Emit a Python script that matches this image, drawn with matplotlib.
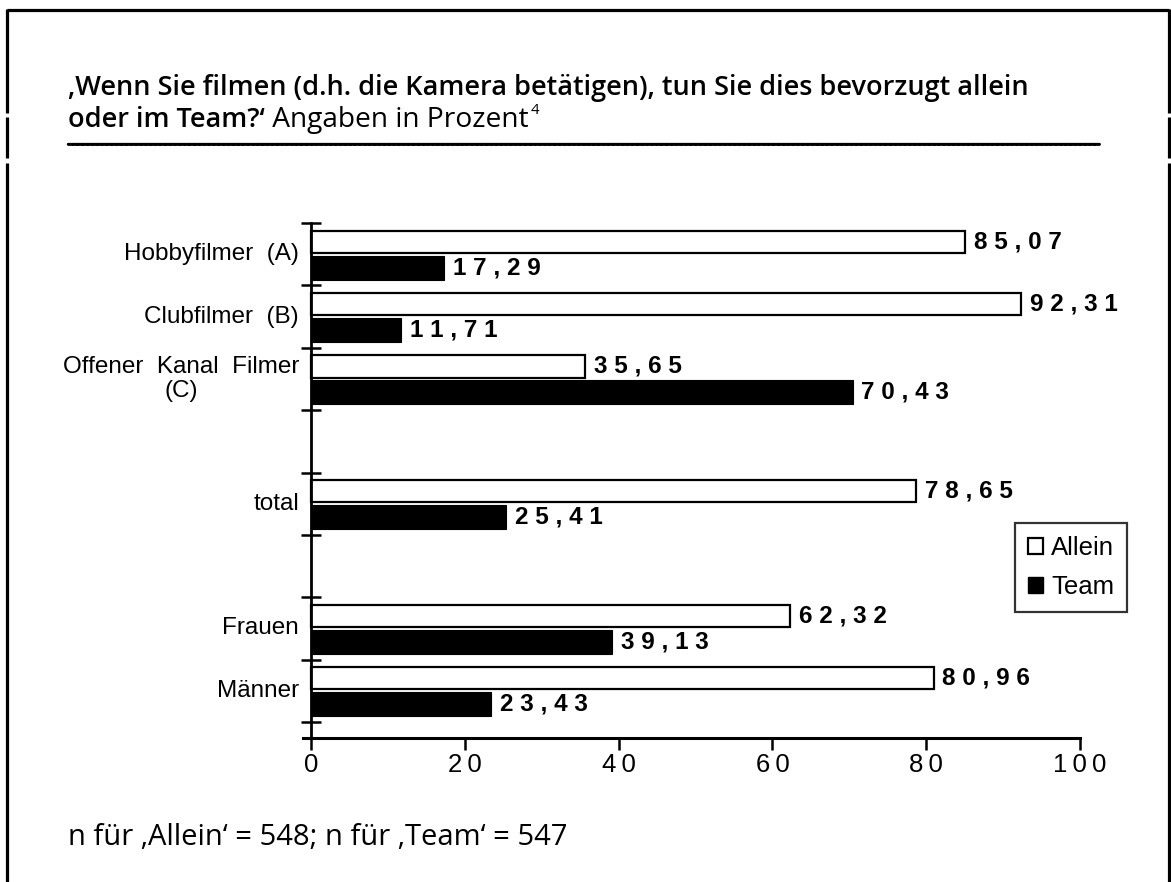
import matplotlib
matplotlib.use("Agg")
import matplotlib.pyplot as plt
from matplotlib.patches import Patch
from matplotlib.lines import Line2D
import matplotlib.patheffects as pe
import numpy as np

# ---------------- data ----------------
categories = ["Hobbyfilmer  (A)", "Clubfilmer  (B)", "Offener  Kanal  Filmer\n(C)",
              "total", "Frauen", "Männer"]
allein = [85.07, 92.31, 35.65, 78.65, 62.32, 80.96]
team = [17.29, 11.71, 70.43, 25.41, 39.13, 23.43]
series_names = ["Allein", "Team"]
x_ticks = [0, 20, 40, 60, 80, 100]
title_line1 = "‚Wenn Sie filmen (d.h. die Kamera betätigen), tun Sie dies bevorzugt allein"
title_line2_bold = "oder im Team?‘"
title_line2_regular = " Angaben in Prozent"
title_sup = "4"
footnote = "n für ‚Allein‘ = 548; n für ‚Team‘ = 547"

# layout: slot of each category (empty slots separate the groups)
slots = [0, 1, 2, 4, 6, 7]
n_slots = 8

W, H = 1171, 882
fig = plt.figure(figsize=(W / 100, H / 100), dpi=100)
fig.patch.set_facecolor("white")


def fx(px):
    return px / W


def fy(py):
    return 1 - py / H


renderer = fig.canvas.get_renderer()

# ---------------- axes ----------------
x0_px, x100_px = 311, 1080
ppu = (x100_px - x0_px) / 100.0
top_px, last_px, axis_px = 223, 722, 738
slot_px = (last_px - top_px) / n_slots
left_px = 303
ax = fig.add_axes([fx(left_px), fy(axis_px), fx(x100_px) - fx(left_px), fy(top_px) - fy(axis_px)])
ax.set_xlim(-(x0_px - left_px) / ppu, 100)
ax.set_ylim(n_slots - 0.5 + (axis_px - last_px) / slot_px, -0.5)

pos = np.array(slots, dtype=float)
ax.barh(pos - 0.2, allein, height=0.355, color="white", edgecolor="black",
        linewidth=1.6, label=series_names[0], zorder=2)
ax.barh(pos + 0.215, team, height=0.385, color="black", edgecolor="black",
        linewidth=0.8, label=series_names[1], zorder=2)

lab_font = ["Liberation Sans", "DejaVu Sans"]


def spaced(v):
    return " ".join(f"{v:.2f}".replace(".", ","))


for p, a, t in zip(pos, allein, team):
    ax.text(a + 1.15, p - 0.2, spaced(a), ha="left", va="center", fontsize=17.5,
            fontweight="bold", family=lab_font, zorder=3)
    ax.text(t + 1.15, p + 0.215, spaced(t), ha="left", va="center", fontsize=17.5,
            fontweight="bold", family=lab_font, zorder=3)

for p, c in zip(pos, categories):
    ax.text(-(x0_px - 299) / ppu, p, c, ha="right", va="center", multialignment="center",
            fontsize=17.5, family=lab_font, linespacing=1.1)

for s in ["top", "right"]:
    ax.spines[s].set_visible(False)
ax.spines["left"].set_position(("data", 0))
ax.spines["left"].set_linewidth(2)
ax.spines["bottom"].set_linewidth(2.2)

ax.set_yticks(np.arange(-0.5, n_slots, 1.0))
ax.set_yticklabels([])
ax.tick_params(axis="y", direction="inout", length=14, width=1.8)

ax.set_xticks(x_ticks)
ax.set_xticklabels(["\u2009".join(str(v)) for v in x_ticks], family=lab_font, fontsize=18.5)
ax.tick_params(axis="x", direction="out", length=8.5, width=1.8, pad=2.5)

# legend
handles = [Patch(facecolor="white", edgecolor="black", linewidth=1.6),
           Patch(facecolor="black", edgecolor="black")]
leg = fig.legend(handles, series_names, loc="upper left",
                 bbox_to_anchor=(fx(1015), fy(523)), borderaxespad=0,
                 prop={"family": lab_font, "size": 18.5}, frameon=True, fancybox=False,
                 handlelength=0.6, handleheight=0.6, handletextpad=0.3,
                 labelspacing=0.6, borderpad=0.5)
leg.get_frame().set_edgecolor("black")
leg.get_frame().set_linewidth(1.6)

# ---------------- texts ----------------
tfont = "Open Sans"


def fit(t, target_w):
    w = t.get_window_extent(renderer).width
    t.set_fontsize(t.get_fontsize() * target_w / w)


t1 = fig.text(fx(68), fy(95), title_line1, ha="left", va="baseline", family=tfont,
              fontweight=600, fontsize=15)
fit(t1, 1030 - 68)
fs_title = t1.get_fontsize()

t2 = fig.text(fx(68), fy(127), title_line2_bold, ha="left", va="baseline", family=tfont,
              fontweight=600, fontsize=fs_title)
bb = t2.get_window_extent(renderer)
t3 = fig.text(bb.x1 / W, fy(127), title_line2_regular, ha="left", va="baseline",
              family=tfont, fontsize=fs_title)
fit(t3, 530 - bb.x1)
bb3 = t3.get_window_extent(renderer)
fig.text(bb3.x1 / W + 0.002, fy(114), title_sup, ha="left", va="baseline", family=tfont,
         fontsize=fs_title * 0.55)

# underscore rule
ufs = 8
probe = fig.text(0, 0, "_" * 20, family=tfont, fontsize=ufs)
uw = probe.get_window_extent(renderer).width / 20
probe.remove()
nu = int(round((1100 - 68) / uw))
fig.text(fx(68), fy(143), "_" * nu, ha="left", va="baseline", family=tfont,
         fontsize=ufs, path_effects=[pe.withStroke(linewidth=1.6, foreground="black")])

tf = fig.text(fx(68), fy(845), footnote, ha="left", va="baseline", family=tfont,
              fontsize=14)
fit(tf, 568 - 68)

# ---------------- frame ----------------
lw = 2.3
fig.add_artist(Line2D([fx(7), fx(1169)], [fy(10), fy(10)], color="black", lw=lw,
                      solid_capstyle="butt"))
for xp in (7, 1169):
    for a, b in [(9, 113), (117, 158), (163, 882)]:
        fig.add_artist(Line2D([fx(xp), fx(xp)], [fy(a), fy(b)], color="black", lw=lw,
                              solid_capstyle="butt"))

fig.savefig("out.png", dpi=100, facecolor="white")
